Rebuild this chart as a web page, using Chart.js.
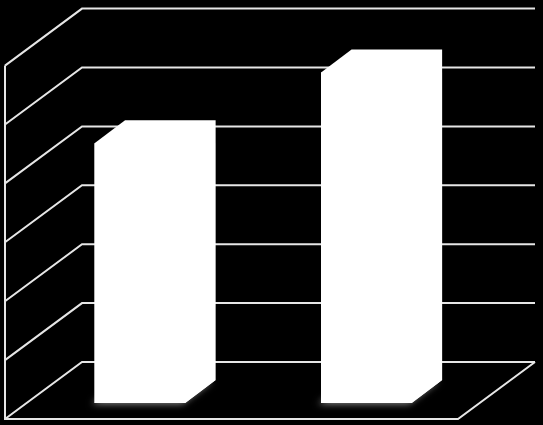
<!DOCTYPE html>
<html>
<head>
<meta charset="utf-8">
<script src="https://cdn.jsdelivr.net/npm/chart.js@4/dist/chart.umd.min.js"></script>
<style>
  html, body { margin: 0; padding: 0; background: #000; }
  canvas { display: block; }
</style>
</head>
<body>
<canvas id="chart" width="543" height="425"></canvas>
<script>
// chart data
const categories = ['1', '2'];
const values = [4.41, 5.61];
const gridValues = [0, 1, 2, 3, 4, 5, 6];

// depth of the 3D box, measured from the bar front plane
const barDepth = { dx: 30.5, dy: -23 };
const backWall = { dx: 55.4, dy: -41 };
const frontEdge = { dx: -21.6, dy: 16 };

const box3d = {
  id: 'box3d',
  beforeDatasetsDraw(chart) {
    const { ctx, chartArea, scales } = chart;
    const y = scales.y;
    const l = chartArea.left, r = chartArea.right;
    ctx.save();
    ctx.strokeStyle = '#e6e6e6';
    ctx.lineWidth = 2;

    // left wall diagonals + back wall horizontals
    gridValues.forEach((v) => {
      const py = y.getPixelForValue(v);
      ctx.beginPath();
      ctx.moveTo(l + frontEdge.dx, py + frontEdge.dy);
      ctx.lineTo(l + backWall.dx, py + backWall.dy);
      ctx.lineTo(r + backWall.dx, py + backWall.dy);
      ctx.stroke();
    });

    // front vertical edge of the left wall, then floor front and right edges
    const top = y.getPixelForValue(gridValues[gridValues.length - 1]);
    const bot = y.getPixelForValue(0);
    ctx.beginPath();
    ctx.moveTo(l + frontEdge.dx, top + frontEdge.dy);
    ctx.lineTo(l + frontEdge.dx, bot + frontEdge.dy);
    ctx.lineTo(r + frontEdge.dx, bot + frontEdge.dy);
    ctx.lineTo(r + backWall.dx, bot + backWall.dy);
    ctx.stroke();

    // soft glow under the bars
    const meta = chart.getDatasetMeta(0);
    meta.data.forEach((bar) => {
      const bl = bar.x - bar.width / 2, br = bar.x + bar.width / 2;
      ctx.save();
      ctx.shadowColor = 'rgba(255,255,255,0.55)';
      ctx.shadowBlur = 7;
      ctx.shadowOffsetX = -3;
      ctx.shadowOffsetY = 1;
      ctx.fillStyle = '#fff';
      ctx.beginPath();
      ctx.moveTo(bl, bar.base);
      ctx.lineTo(br, bar.base);
      ctx.lineTo(br + barDepth.dx, bar.base + barDepth.dy);
      ctx.lineTo(bl + barDepth.dx, bar.base + barDepth.dy);
      ctx.closePath();
      ctx.fill();
      ctx.restore();
    });
    ctx.restore();
  },
  afterDatasetsDraw(chart) {
    const { ctx } = chart;
    const meta = chart.getDatasetMeta(0);
    ctx.save();
    ctx.fillStyle = '#fff';
    meta.data.forEach((bar) => {
      const bl = bar.x - bar.width / 2, br = bar.x + bar.width / 2;
      // whole solid outline (front + top + side) so no seams show
      ctx.beginPath();
      ctx.moveTo(bl, bar.base);
      ctx.lineTo(bl, bar.y);
      ctx.lineTo(bl + barDepth.dx, bar.y + barDepth.dy);
      ctx.lineTo(br + barDepth.dx, bar.y + barDepth.dy);
      ctx.lineTo(br + barDepth.dx, bar.base + barDepth.dy);
      ctx.lineTo(br, bar.base);
      ctx.closePath();
      ctx.fill();
    });
    ctx.restore();
  }
};

new Chart(document.getElementById('chart'), {
  type: 'bar',
  data: {
    labels: categories,
    datasets: [{
      data: values,
      backgroundColor: '#fff',
      borderWidth: 0,
      categoryPercentage: 1,
      barPercentage: 0.4
    }]
  },
  options: {
    responsive: false,
    animation: false,
    layout: { padding: { left: 26.6, right: 63.4, top: 49.6, bottom: 22 } },
    plugins: { legend: { display: false }, tooltip: { enabled: false } },
    scales: {
      x: { display: false },
      y: { display: false, min: 0, max: 6 }
    }
  },
  plugins: [box3d]
});
</script>
</body>
</html>
